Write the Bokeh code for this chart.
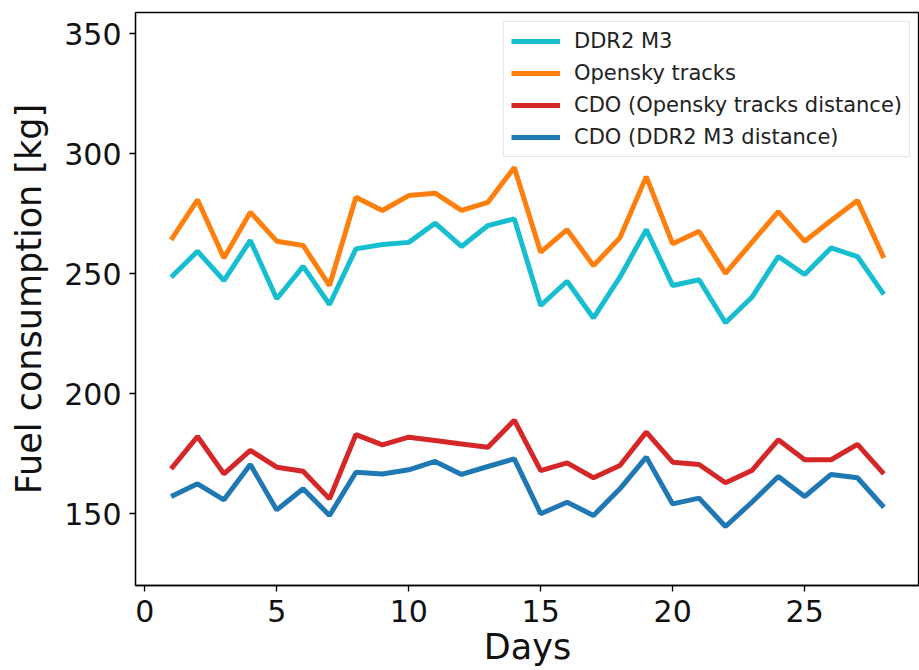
from bokeh.plotting import figure
from bokeh.models import Range1d, FixedTicker, Legend, LegendItem
from bokeh.embed import file_html
from bokeh.resources import INLINE

days = list(range(1, 29))
ddr2_m3 = [248.5, 259.3, 247.1, 263.8, 239.5, 253.0, 237.1, 260.3, 262.1, 263.0,
           271.0, 261.3, 270.0, 272.8, 236.7, 246.8, 231.5, 248.5, 268.3, 245.0,
           247.4, 229.5, 240.1, 257.1, 249.6, 260.7, 257.1, 241.3]
opensky = [264.0, 280.7, 256.5, 275.6, 263.5, 261.7, 245.0, 281.8, 276.3, 282.5,
           283.5, 276.3, 279.7, 294.2, 258.9, 268.3, 253.3, 264.9, 290.4, 262.4,
           267.6, 250.1, 263.0, 275.8, 263.5, 272.1, 280.4, 256.5]
cdo_opensky = [168.6, 182.1, 166.5, 176.3, 169.3, 167.6, 156.1, 182.9, 178.6, 181.8,
               180.4, 179.0, 177.6, 188.9, 167.9, 171.1, 164.9, 170.0, 183.9, 171.4,
               170.4, 162.8, 167.9, 180.7, 172.4, 172.4, 178.8, 166.5]
cdo_ddr2 = [157.1, 162.4, 155.7, 170.4, 151.5, 160.3, 149.2, 167.2, 166.5, 168.2,
            171.7, 166.3, 169.6, 172.8, 149.9, 154.7, 149.2, 160.3, 173.5, 154.0,
            156.4, 144.6, 154.7, 165.4, 157.1, 166.3, 164.9, 152.6]

series_names = ["DDR2 M3", "Opensky tracks", "CDO (Opensky tracks distance)", "CDO (DDR2 M3 distance)"]
series_values = [ddr2_m3, opensky, cdo_opensky, cdo_ddr2]
series_colors = ["#17becf", "#ff7f0e", "#d62728", "#1f77b4"]

x_ticks = [0, 5, 10, 15, 20, 25]
y_ticks = [150, 200, 250, 300, 350]

FONT = "DejaVu Sans"

p = figure(output_backend="svg", toolbar_location=None,
           frame_width=784, frame_height=573,
           min_border_left=135, min_border_top=12, min_border_right=0, min_border_bottom=85,
           x_range=Range1d(-0.35, 29.35), y_range=Range1d(120, 358.8))

items = []
for name, vals, col in zip(series_names, series_values, series_colors):
    r = p.line(days, vals, line_color=col, line_width=5)
    items.append(LegendItem(label=name, renderers=[r]))

legend = Legend(items=items, location="top_right")
legend.label_text_font = FONT
legend.label_text_font_size = "21px"
legend.label_text_color = "#222222"
legend.glyph_width = 49
legend.glyph_height = 20
legend.label_height = 24
legend.label_standoff = 14
legend.spacing = 8
legend.padding = 7
legend.margin = 9
legend.border_line_color = "#cccccc"
legend.border_line_width = 1
legend.background_fill_alpha = 0.9
p.add_layout(legend)

p.xgrid.visible = False
p.ygrid.visible = False
p.outline_line_color = "black"
p.outline_line_width = 1.3
p.outline_line_alpha = 1

for ax in (p.xaxis[0], p.yaxis[0]):
    ax.major_label_text_font = FONT
    ax.major_label_text_font_size = "30px"
    ax.major_label_text_color = "#111111"
    ax.axis_label_text_font = FONT
    ax.axis_label_text_font_size = "35px"
    ax.axis_label_text_font_style = "normal"
    ax.axis_label_text_color = "#111111"
    ax.minor_tick_line_color = None
    ax.major_tick_in = 0
    ax.major_tick_out = 6
    ax.major_tick_line_width = 1.3
    ax.axis_line_width = 1.3
    ax.axis_line_color = "black"
    ax.major_label_standoff = 8

p.xaxis[0].ticker = FixedTicker(ticks=x_ticks)
p.yaxis[0].ticker = FixedTicker(ticks=y_ticks)
p.xaxis[0].axis_label = "Days"
p.yaxis[0].axis_label = "Fuel consumption [kg]"
p.xaxis[0].axis_label_standoff = 2
p.yaxis[0].axis_label_standoff = 12

open("out.html", "w").write(file_html(p, INLINE))
